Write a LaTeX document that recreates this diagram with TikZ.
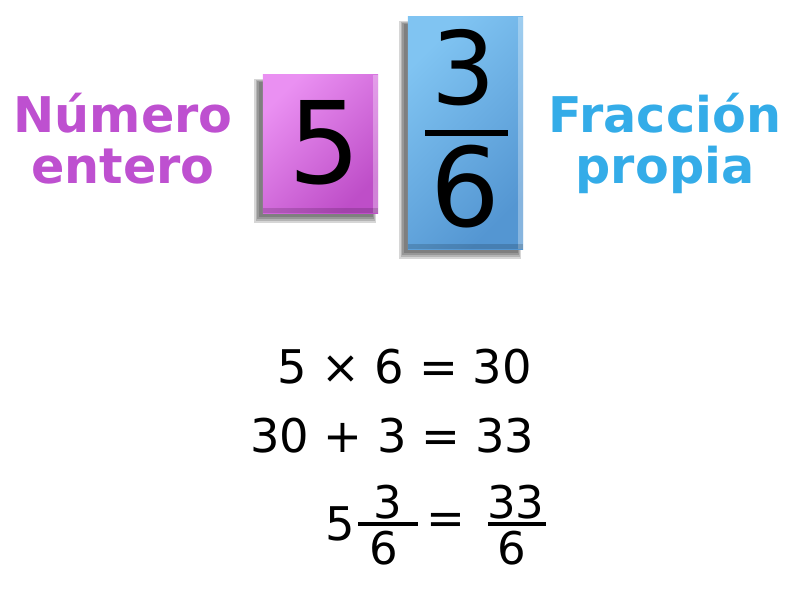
\documentclass[tikz,border=0pt]{standalone}
\usepackage{fontspec}
\setmainfont{DejaVu Sans}
\usetikzlibrary{positioning, calc}
\definecolor{pinklight}{HTML}{EA90F2}
\definecolor{pinkdark}{HTML}{BE4EC8}
\definecolor{bluelight}{HTML}{80C4F2}
\definecolor{bluedark}{HTML}{5496D2}
\definecolor{wholetext}{HTML}{BE50D0}
\definecolor{fractext}{HTML}{34ACE8}

\begin{document}
\begin{tikzpicture}[x=0.025cm, y=-0.025cm,
    every node/.style={inner sep=0pt, outer sep=0pt},
    caption/.style={font=\bfseries\fontsize{35}{35.6}\selectfont, align=center, anchor=base},
    tile/.style={minimum width=2.875cm, draw=none},
    wholetile/.style={tile, minimum height=3.45cm, top color=pinklight, bottom color=pinkdark, shading angle=45},
    fractile/.style={tile, minimum height=5.8cm, top color=bluelight, bottom color=bluedark, shading angle=45},
    tileshade/.style={black, opacity=0.16},
    eqline/.style={font=\fontsize{33}{40}\selectfont, anchor=base west},
    eqsmall/.style={font=\fontsize{32}{38}\selectfont, anchor=base},
    fracbar/.style={line width=2.2pt},
    bigbar/.style={line width=4.5pt}
]
\useasboundingbox (0,0) rectangle (800,600);

\foreach \s in {0,...,3} {
  \fill[tileshade] (254+1.5*\s,79+\s) rectangle (376-\s,223-2*\s);
  \fill[tileshade] (399+1.5*\s,21+\s) rectangle (521-\s,259-2*\s);
}

\node[wholetile] (whole) at (320.5,144) {};
\node[fractile] (frac) at (465.5,133) {};
\fill[white, opacity=0.3] ($(whole.north east)+(-5,0)$) rectangle (whole.south east);
\fill[black, opacity=0.15] ($(whole.south west)+(0,-5)$) rectangle (whole.south east);
\fill[white, opacity=0.3] ($(frac.north east)+(-5,0)$) rectangle (frac.south east);
\fill[black, opacity=0.15] ($(frac.south west)+(0,-5)$) rectangle (frac.south east);

\node[font=\fontsize{81}{81}\selectfont, anchor=base] (wholedigit) at (325,183) {5};
\node[font=\fontsize{72}{72}\selectfont, anchor=base] (fracnum) at (464,104) {3};
\node[font=\fontsize{78}{78}\selectfont, anchor=base] (fracden) at (465,226) {6};
\coordinate (bigbarw) at (425,133);
\coordinate (bigbare) at (508,133);
\draw[bigbar] (bigbarw) -- (bigbare);

\node[caption, text=wholetext] (wholelabel) at (123,183) {Número\\entero};
\node[caption, text=fractext] (fraclabel) at (665,183) {Fracción\\propia};

\node[eqline] (stepone) at (277,383) {5 × 6 = 30};
\node[eqline] (steptwo) at (250,452) {30 + 3 = 33};

\node[eqline] (mixwhole) at (325,540) {5};
\node[eqsmall] (mixnum) at (388,518) {3};
\node[eqsmall] (mixden) at (384,564) {6};
\coordinate (mixbarw) at (358,524);
\coordinate (mixbare) at (418,524);
\draw[fracbar] (mixbarw) -- (mixbare);
\node[font=\fontsize{33}{40}\selectfont] (mixeq) at (446,523.5) {=};
\node[eqsmall] (impnum) at (516,518) {33};
\node[eqsmall] (impden) at (512,564) {6};
\coordinate (impbarw) at (488,524);
\coordinate (impbare) at (546,524);
\draw[fracbar] (impbarw) -- (impbare);
\end{tikzpicture}
\end{document}
